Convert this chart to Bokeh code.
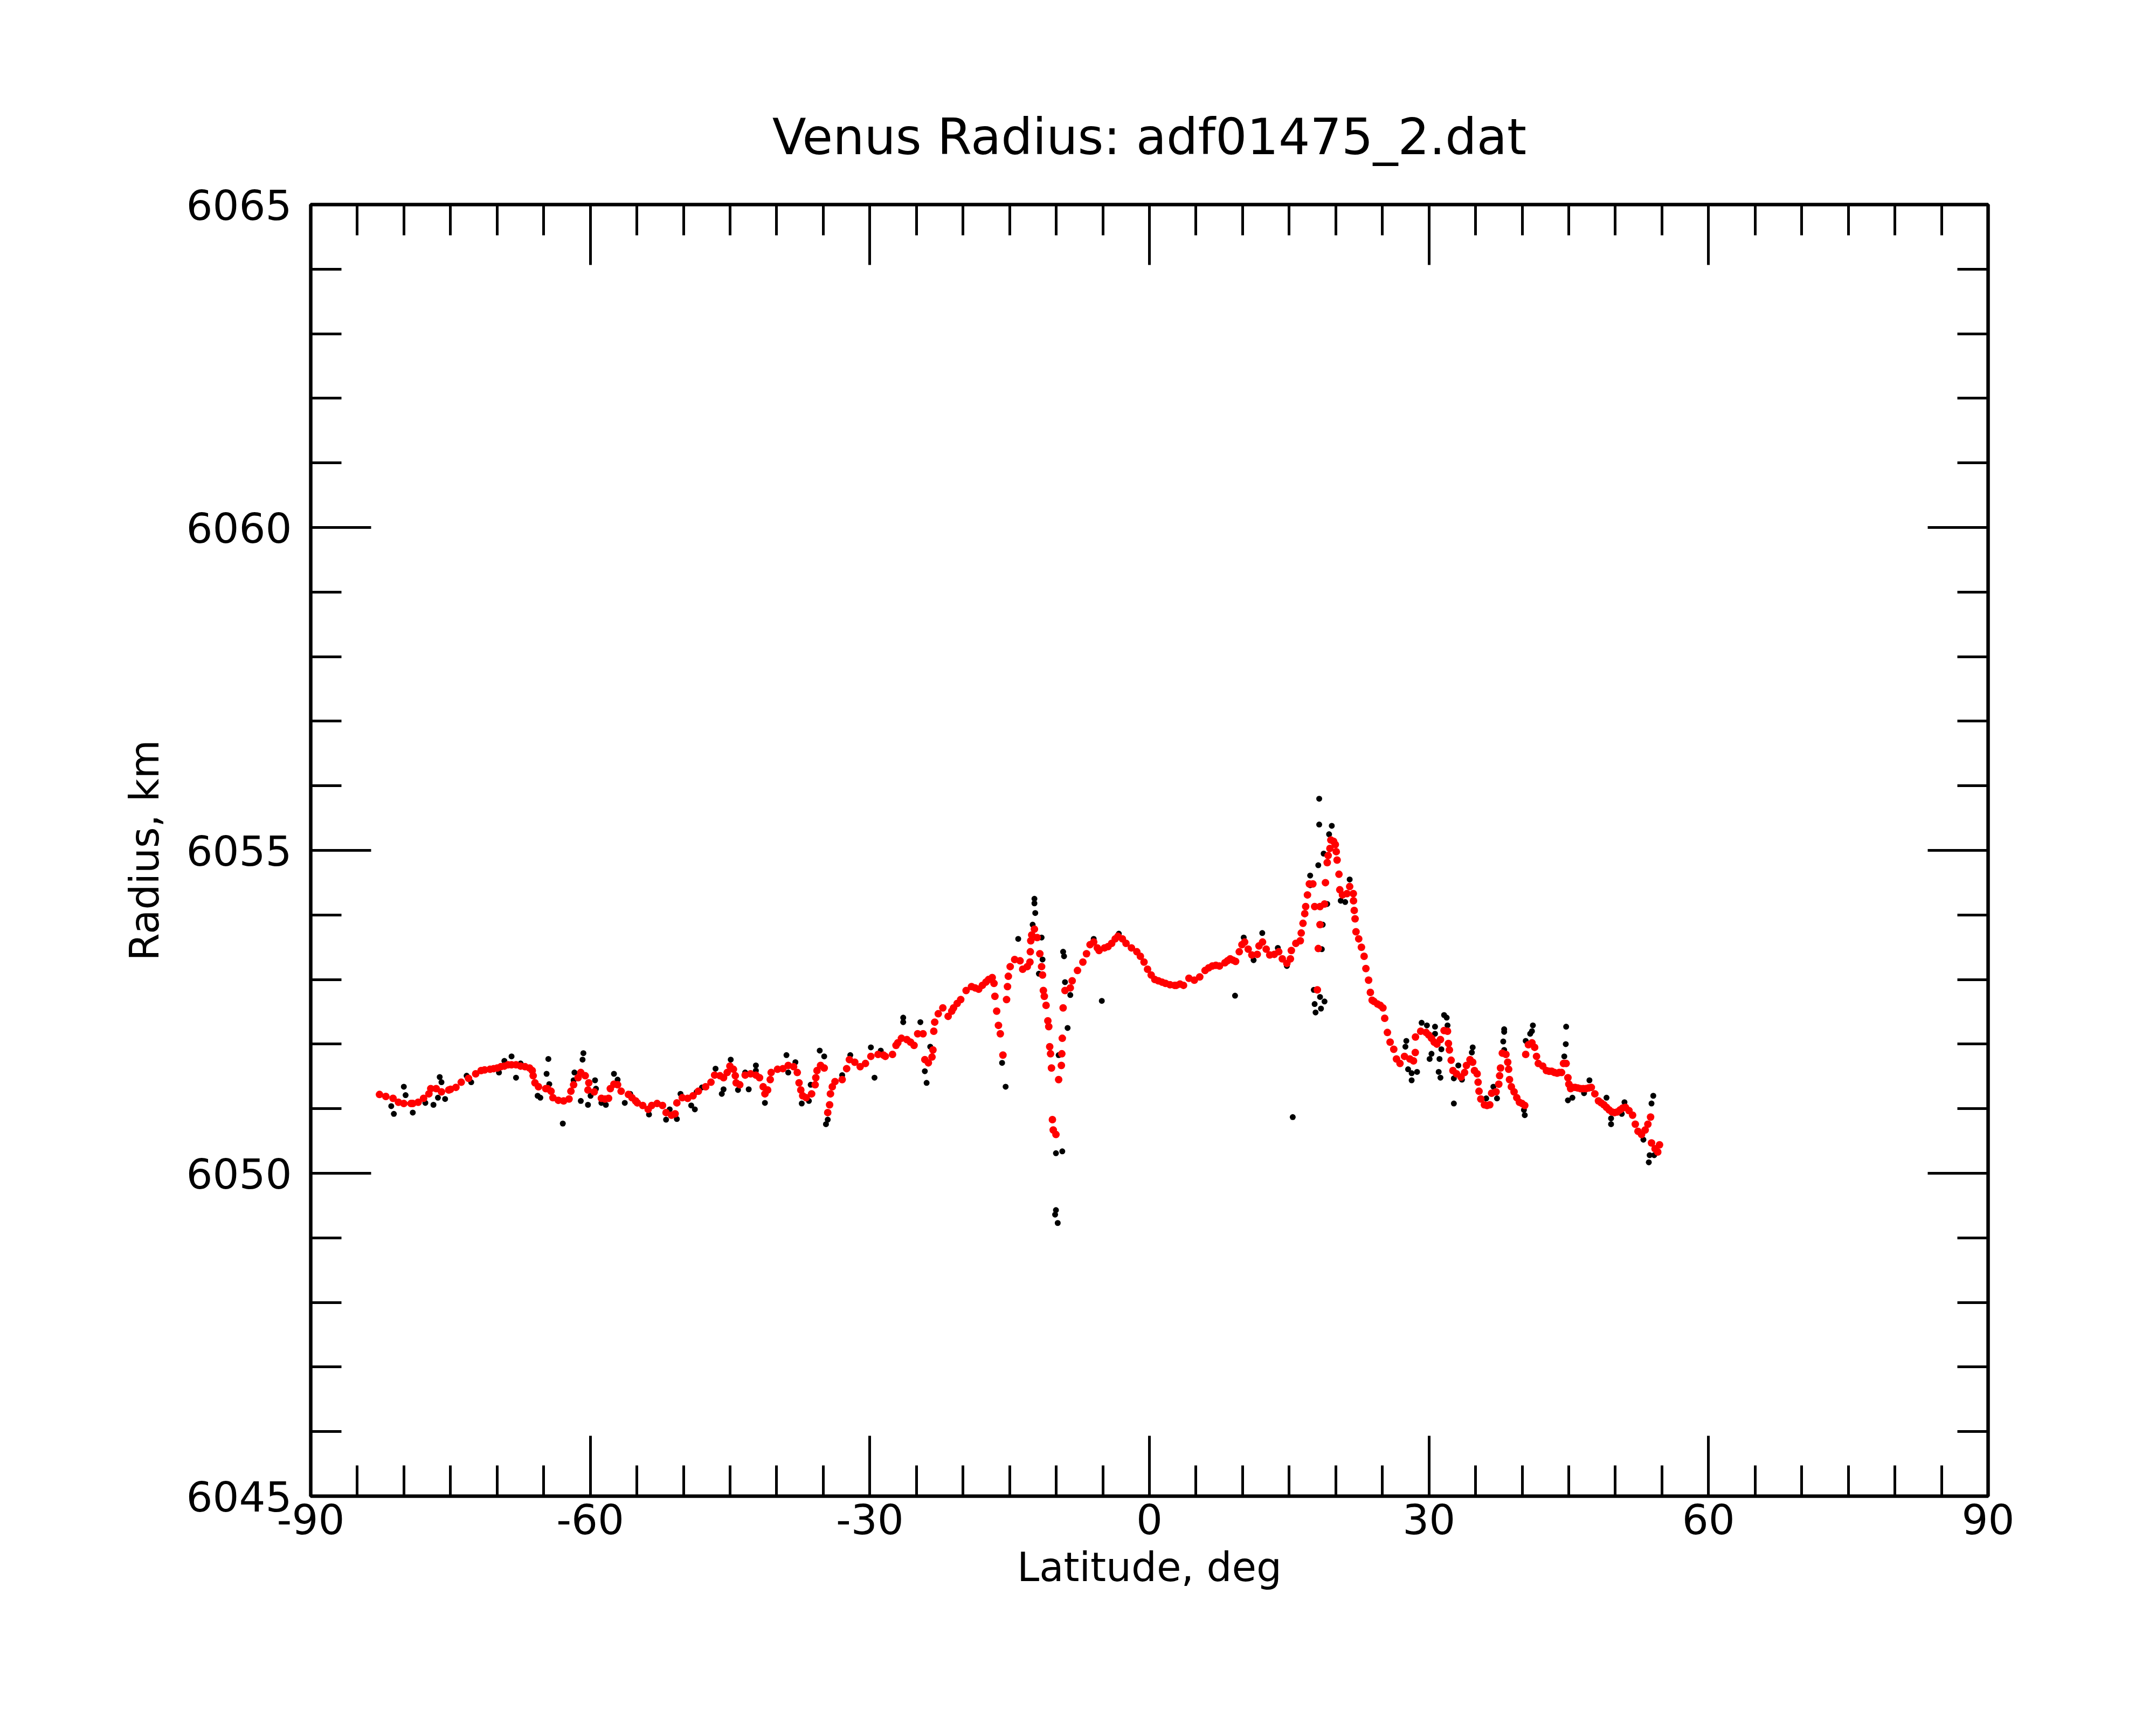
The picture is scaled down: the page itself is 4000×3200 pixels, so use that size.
from bokeh.plotting import figure
from bokeh.models import Range1d, LinearAxis, FixedTicker, ColumnDataSource, CustomJSTickFormatter
from bokeh.embed import file_html
from bokeh.resources import INLINE

# ---------------- data ----------------
# smoothed radius profile (red)
red_lat = [
    -82.62, -81.94, -81.17, -80.59, -80.01, -79.24, -79.05, -78.47, -77.89, -77.32,
    -77.12, -76.54, -75.97, -75.19, -75.00, -74.42, -73.85, -73.07, -72.30, -71.72,
    -71.34, -70.76, -70.37, -69.99, -69.60, -69.22, -68.83, -68.45, -67.97, -67.48,
    -67.00, -66.52, -66.23, -66.13, -65.94, -65.56, -64.78, -64.59, -64.21, -64.01,
    -63.43, -62.86, -62.28, -62.08, -61.79, -61.31, -61.02, -60.54, -60.16, -60.25,
    -59.58, -58.81, -58.42, -58.04, -57.85, -57.46, -57.07, -56.69, -55.91, -55.53,
    -55.14,
    -54.95, -54.37, -53.79, -53.41, -52.83, -52.25, -51.87, -51.29, -50.90, -50.71,
    -50.13, -49.55, -48.97, -48.40, -47.62, -47.05, -46.66, -46.08, -45.70, -45.31,
    -45.02, -44.64, -44.44, -44.35, -43.96, -43.38, -42.80, -42.23, -41.84, -41.45,
    -41.26, -40.97, -40.69, -40.59, -39.91, -39.33, -38.76, -38.18, -37.79, -37.60,
    -37.41, -37.21, -36.83, -36.25, -35.87, -35.80, -35.67, -35.29, -34.90, -34.23,
    -34.32, -34.52, -34.03, -33.74, -32.97, -32.49, -32.20, -31.62, -31.04, -30.47,
    -29.89, -29.12, -28.54, -28.34, -27.57, -27.19, -27.00, -26.61,
    -26.03, -25.64, -25.26, -24.87, -24.29, -24.10, -23.72, -23.33, -23.23, -23.14,
    -23.04, -22.66, -22.17, -21.60, -21.21, -21.02, -20.63, -20.25, -19.67, -19.09,
    -18.70, -18.32, -17.93, -17.55, -17.26, -16.87, -16.68, -16.58, -16.39, -16.20,
    -16.00, -15.72, -15.33, -15.23, -15.14, -14.94, -14.46, -13.88, -13.60, -13.11,
    -12.82, -12.78, -12.73, -12.63, -12.34, -12.05, -11.76, -11.57, -11.47, -11.38,
    -11.28, -11.09, -10.90, -10.80, -10.70, -10.61, -10.51, -10.41, -10.32, -10.03,
    -9.74, -9.45, -9.40, -9.35, -9.26, -9.06, -8.49, -8.29, -7.72, -7.14,
    -6.75, -6.37, -5.98, -5.59, -5.40, -4.82, -4.44, -4.05, -3.67, -3.38,
    -2.90, -2.51, -1.93, -1.35, -0.97, -0.58, -0.20, 0.19, 0.58, 0.96,
    1.35, 1.73, 2.21, 2.70,
    2.89, 3.28, 3.66, 4.24, 4.82, 5.40, 5.97, 6.36, 6.75, 7.13,
    7.52, 8.10, 8.38, 8.67, 8.96, 9.25, 9.64, 9.93, 10.22, 10.60,
    10.99, 11.57, 11.76, 12.14, 12.53, 12.91, 13.40, 13.88, 14.26, 14.75,
    15.13, 15.23, 15.71, 16.19, 16.29, 16.48, 16.67, 16.77, 16.96, 17.16,
    17.54, 17.73, 18.02, 18.12, 18.31, 18.31, 18.79, 18.89, 19.08, 19.18,
    19.37, 19.47, 19.76, 19.95, 20.05, 20.14, 20.34, 20.43, 20.72, 21.20,
    21.49, 21.88, 21.90, 21.98, 22.07, 22.17, 22.46, 22.75, 23.04, 23.23,
    23.52, 23.71, 23.90, 24.10, 24.48, 24.77, 25.06, 25.25, 25.54, 25.83,
    26.22, 26.51, 26.89, 27.37, 27.95, 28.34, 28.53, 28.55, 29.11, 29.69,
    29.98, 30.27, 30.56, 30.85, 31.23, 31.62,
    31.99, 32.09, 32.19, 32.38, 32.57, 32.96, 33.44, 33.82, 34.02, 34.40,
    34.69, 34.88, 35.17, 35.27, 35.37, 35.56, 35.95, 36.23, 36.52, 36.72,
    37.20, 37.49, 37.58, 37.68, 37.87, 38.26, 38.45, 38.55, 38.64, 38.84,
    39.13, 39.42, 39.70, 39.99, 40.28, 40.38, 40.67, 41.05, 41.34, 41.54,
    41.73, 42.21, 42.60, 42.89, 43.17, 43.46, 43.75, 43.98, 44.23, 44.43,
    44.72, 44.91, 45.01, 45.20, 45.39, 45.68, 45.97, 46.26, 46.55, 46.84,
    47.13, 47.42, 47.80, 48.19, 48.48, 48.77, 49.05, 49.34, 49.63, 49.92,
    50.21, 50.50, 50.79, 51.08, 51.46, 51.85, 52.14, 52.43, 52.81, 53.20,
    53.49, 53.78, 53.88, 54.26, 54.55, 54.74,
]
red_radius = [
    6051.22, 6051.19, 6051.16, 6051.10, 6051.08, 6051.08, 6051.08, 6051.10, 6051.16, 6051.23,
    6051.31, 6051.31, 6051.26, 6051.29, 6051.30, 6051.33, 6051.41, 6051.47, 6051.54, 6051.59,
    6051.60, 6051.61, 6051.62, 6051.63, 6051.65, 6051.66, 6051.68, 6051.68, 6051.68, 6051.66,
    6051.65, 6051.63, 6051.59, 6051.51, 6051.40, 6051.34, 6051.31, 6051.31, 6051.27, 6051.17,
    6051.13, 6051.12, 6051.15, 6051.27, 6051.37, 6051.48, 6051.56, 6051.51, 6051.40, 6051.29,
    6051.26, 6051.16, 6051.15, 6051.16, 6051.31, 6051.38, 6051.37, 6051.27, 6051.22, 6051.17,
    6051.12,
    6051.09, 6051.05, 6050.99, 6051.05, 6051.08, 6051.05, 6050.94, 6050.90, 6050.92, 6051.09,
    6051.17, 6051.16, 6051.20, 6051.27, 6051.34, 6051.41, 6051.52, 6051.51, 6051.48, 6051.56,
    6051.66, 6051.61, 6051.51, 6051.40, 6051.37, 6051.52, 6051.54, 6051.52, 6051.48, 6051.34,
    6051.23, 6051.29, 6051.45, 6051.56, 6051.61, 6051.62, 6051.67, 6051.65, 6051.56, 6051.40,
    6051.29, 6051.20, 6051.17, 6051.23, 6051.37, 6051.48, 6051.59, 6051.67, 6051.63, 6051.23,
    6051.06, 6050.94, 6051.34, 6051.42, 6051.45, 6051.62, 6051.76, 6051.72, 6051.65, 6051.70,
    6051.81, 6051.84, 6051.83, 6051.81, 6051.84, 6051.98, 6052.02, 6052.09,
    6052.07, 6052.03, 6051.98, 6052.16, 6052.16, 6051.76, 6051.71, 6051.80, 6051.91, 6052.20,
    6052.34, 6052.47, 6052.56, 6052.43, 6052.51, 6052.56, 6052.63, 6052.69, 6052.83, 6052.89,
    6052.87, 6052.85, 6052.91, 6052.96, 6053.00, 6053.03, 6052.94, 6052.74, 6052.51, 6052.29,
    6052.16, 6051.83, 6052.69, 6052.89, 6053.05, 6053.20, 6053.31, 6053.29, 6053.16, 6053.20,
    6053.27, 6053.43, 6053.60, 6053.69, 6053.78, 6053.65, 6053.40, 6053.20, 6053.07, 6052.83,
    6052.74, 6052.60, 6052.36, 6052.27, 6051.96, 6051.85, 6051.63, 6050.83, 6050.67, 6050.60,
    6051.45, 6051.67, 6051.85, 6052.09, 6052.56, 6052.83, 6052.87, 6052.98, 6053.14, 6053.27,
    6053.40, 6053.54, 6053.58, 6053.49, 6053.45, 6053.49, 6053.51, 6053.56, 6053.63, 6053.67,
    6053.63, 6053.56, 6053.49, 6053.43, 6053.36, 6053.27, 6053.16, 6053.07, 6053.00, 6052.98,
    6052.96, 6052.94, 6052.92, 6052.91,
    6052.91, 6052.93, 6052.91, 6053.02, 6052.99, 6053.04, 6053.14, 6053.18, 6053.21, 6053.22,
    6053.21, 6053.26, 6053.29, 6053.32, 6053.30, 6053.28, 6053.43, 6053.54, 6053.58, 6053.47,
    6053.38, 6053.39, 6053.52, 6053.58, 6053.47, 6053.38, 6053.39, 6053.43, 6053.32, 6053.25,
    6053.32, 6053.45, 6053.56, 6053.60, 6053.72, 6053.87, 6054.02, 6054.13, 6054.31, 6054.48,
    6054.48, 6054.13, 6052.84, 6053.48, 6053.85, 6054.13, 6054.17, 6054.50, 6054.81, 6054.92,
    6055.03, 6055.16, 6055.14, 6055.09, 6054.98, 6054.85, 6054.63, 6054.39, 6054.31, 6054.33,
    6054.44, 6054.33, 6054.22, 6054.07, 6053.94, 6053.74, 6053.63, 6053.50, 6053.36, 6053.17,
    6052.99, 6052.80, 6052.68, 6052.66, 6052.62, 6052.60, 6052.56, 6052.40, 6052.18, 6052.03,
    6051.92, 6051.77, 6051.70, 6051.81, 6051.77, 6051.74, 6051.87, 6052.11, 6052.20, 6052.18,
    6052.14, 6052.09, 6052.03, 6052.00, 6052.07, 6052.21,
    6052.20, 6052.01, 6051.91, 6051.75, 6051.59, 6051.54, 6051.49, 6051.56, 6051.67, 6051.76,
    6051.72, 6051.59, 6051.54, 6051.41, 6051.27, 6051.15, 6051.06, 6051.05, 6051.06, 6051.24,
    6051.26, 6051.38, 6051.51, 6051.63, 6051.86, 6051.84, 6051.72, 6051.61, 6051.45, 6051.34,
    6051.26, 6051.17, 6051.10, 6051.08, 6051.05, 6051.84, 6051.99, 6052.02, 6051.95, 6051.81,
    6051.70, 6051.66, 6051.59, 6051.58, 6051.58, 6051.56, 6051.55, 6051.56, 6051.56, 6051.70,
    6051.70, 6051.48, 6051.38, 6051.31, 6051.33, 6051.33, 6051.32, 6051.31, 6051.31, 6051.31,
    6051.32, 6051.33, 6051.23, 6051.12, 6051.09, 6051.06, 6051.02, 6050.98, 6050.95, 6050.94,
    6050.95, 6050.98, 6051.01, 6051.02, 6050.97, 6050.90, 6050.76, 6050.65, 6050.60, 6050.67,
    6050.76, 6050.87, 6050.47, 6050.38, 6050.33, 6050.44,
]

# raw measurements that stray from the smoothed profile (black)
raw_lat = [
    -81.36, -81.08, -80.01, -79.82, -79.05, -77.70, -76.83, -76.16, -75.97, -76.35,
    -75.58, -73.27, -72.78, -69.80, -69.22, -68.45, -67.97, -67.48, -64.50, -64.69,
    -64.40, -65.65, -65.36, -62.95, -60.74, -60.83, -61.70, -61.79, -61.02, -60.25,
    -59.49, -59.39, -59.97, -58.81, -58.33, -57.46, -57.07, -56.30, -55.72,
    -53.70, -51.87, -50.71, -51.48, -50.32, -48.78, -49.17, -48.59, -48.01, -46.56,
    -45.89, -45.70, -44.93, -44.15, -43.38, -43.00, -42.23, -42.23, -41.26, -38.95,
    -38.76, -37.99, -37.31, -36.54, -36.35, -35.38, -34.90, -34.71, -34.52, -32.97,
    -32.10, -29.89, -29.50, -28.83, -26.42, -26.42,
    -24.58, -24.10, -23.91, -23.52, -14.08, -12.34, -12.34, -12.25, -12.53, -11.57,
    -11.47, -11.86, -15.81, -15.43, -10.03, -9.35, -10.03, -10.12, -9.84, -9.26,
    -9.16, -9.06, -8.78, -9.74, -8.49, -5.11, -5.98, -3.28,
    18.22, 18.22, 19.57, 19.28, 18.70, 18.12, 17.25, 17.25, 21.49, 20.53,
    21.01, 19.08, 18.60, 18.50, 17.64, 18.31, 18.79, 17.73, 18.41, 17.83,
    15.38, 9.19, 10.12, 12.11, 13.78, 11.18, 14.75, 27.57, 27.47, 28.14,
    28.14, 28.72, 27.76, 29.21, 29.78, 30.65, 30.65, 30.27, 30.07, 31.13,
    31.04, 31.23, 31.62, 31.33,
    31.90, 31.99, 32.67, 32.67, 33.15, 33.54, 34.69, 34.60, 36.14, 36.91,
    37.30, 38.07, 38.07, 37.97, 38.07, 40.28, 40.19, 40.38, 40.86, 41.15,
    41.05, 44.72, 44.68, 44.52, 44.91, 45.39, 46.64, 47.22, 49.05, 49.54,
    49.54, 50.98, 50.69, 54.07, 53.88, 53.01, 53.68, 53.59, 54.17,
]
raw_radius = [
    6051.04, 6050.92, 6051.34, 6051.21, 6050.94, 6051.09, 6051.06, 6051.49, 6051.41, 6051.17,
    6051.15, 6051.51, 6051.41, 6051.56, 6051.74, 6051.81, 6051.48, 6051.70, 6051.77, 6051.54,
    6051.38, 6051.20, 6051.17, 6050.77, 6051.86, 6051.76, 6051.56, 6051.44, 6051.12, 6051.06,
    6051.44, 6051.31, 6051.20, 6051.09, 6051.06, 6051.54, 6051.45, 6051.09, 6051.23,
    6050.91, 6050.83, 6050.84, 6050.99, 6051.23, 6050.99, 6051.05, 6051.26, 6051.33, 6051.62,
    6051.23, 6051.30, 6051.76, 6051.29, 6051.56, 6051.30, 6051.67, 6051.59, 6051.09, 6051.83,
    6051.56, 6051.72, 6051.08, 6051.12, 6051.37, 6051.90, 6051.81, 6050.76, 6050.83, 6051.52,
    6051.83, 6051.95, 6051.48, 6051.90, 6052.41, 6052.34,
    6052.34, 6051.58, 6051.40, 6051.96, 6053.63, 6054.25, 6054.18, 6054.03, 6053.85, 6053.65,
    6053.31, 6053.09, 6051.71, 6051.34, 6050.31, 6050.34, 6049.43, 6049.36, 6049.23, 6053.43,
    6053.36, 6052.96, 6052.25, 6051.83, 6052.76, 6052.67, 6053.63, 6053.71,
    6055.80, 6055.40, 6055.38, 6055.25, 6054.95, 6054.77, 6054.61, 6054.46, 6054.55, 6054.22,
    6054.20, 6054.17, 6053.85, 6053.47, 6052.84, 6052.73, 6052.66, 6052.62, 6052.55, 6052.49,
    6050.87, 6052.75, 6053.65, 6053.72, 6053.49, 6053.30, 6053.21, 6052.05, 6051.96, 6051.55,
    6051.44, 6051.57, 6051.61, 6052.33, 6052.29, 6052.27, 6052.16, 6051.85, 6051.77, 6051.77,
    6051.57, 6051.48, 6052.45, 6051.92,
    6052.41, 6052.29, 6051.47, 6051.08, 6051.67, 6051.45, 6051.95, 6051.87, 6051.16, 6051.34,
    6051.16, 6052.23, 6052.19, 6052.04, 6051.91, 6050.90, 6050.98, 6052.05, 6052.16, 6052.29,
    6052.20, 6052.27, 6052.00, 6051.81, 6051.13, 6051.17, 6051.24, 6051.44, 6051.17, 6050.76,
    6050.85, 6051.10, 6050.92, 6051.20, 6051.08, 6050.52, 6050.28, 6050.17, 6050.28,
]

x_major = [-90, -60, -30, 0, 30, 60, 90]
x_minor = list(range(-90, 91, 5))
y_major = [6045, 6050, 6055, 6060, 6065]
y_minor = list(range(6045, 6066, 1))

TITLE = "Venus Radius: adf01475_2.dat"
XLABEL = "Latitude, deg"
YLABEL = "Radius, km"

FONT = "DejaVu Sans"

# ---------------- figure ----------------
p = figure(width=3984, height=3184, output_backend="svg", toolbar_location=None,
           x_range=Range1d(-90, 90), y_range=Range1d(6045, 6065),
           x_axis_location=None, y_axis_location=None,
           min_border_left=576, min_border_right=296,
           min_border_top=379, min_border_bottom=409,
           title=TITLE)
p.grid.visible = False
p.outline_line_color = "black"
p.outline_line_width = 6
p.background_fill_color = "white"
p.border_fill_color = "white"

p.title.text_font = FONT
p.title.text_font_size = "92px"
p.title.text_font_style = "normal"
p.title.align = "center"
p.title.text_color = "black"
p.title.standoff = 143


def make_axis(major, minor, label=None, show_labels=True, label_standoff=12, axis_label_standoff=10):
    ax = LinearAxis(ticker=FixedTicker(ticks=major, minor_ticks=minor))
    ax.major_tick_in = 112
    ax.major_tick_out = 0
    ax.minor_tick_in = 57
    ax.minor_tick_out = 0
    ax.axis_line_width = 6
    ax.axis_line_color = "black"
    ax.major_tick_line_width = 5
    ax.minor_tick_line_width = 5
    ax.major_tick_line_color = "black"
    ax.minor_tick_line_color = "black"
    if show_labels:
        ax.formatter = CustomJSTickFormatter(code="return tick.toFixed(0);")
        ax.major_label_text_font = FONT
        ax.major_label_text_font_size = "77px"
        ax.major_label_text_color = "black"
        ax.major_label_standoff = label_standoff
    else:
        ax.formatter = CustomJSTickFormatter(code="return '';")
        ax.major_label_standoff = 0
    if label:
        ax.axis_label = label
        ax.axis_label_text_font = FONT
        ax.axis_label_text_font_size = "74px"
        ax.axis_label_text_font_style = "normal"
        ax.axis_label_text_color = "black"
        ax.axis_label_standoff = axis_label_standoff
    return ax


p.add_layout(make_axis(x_major, x_minor, XLABEL, True, 14, 15), "below")
p.add_layout(make_axis(y_major, y_minor, YLABEL, True, 35, 32), "left")
p.add_layout(make_axis(x_major, x_minor, None, False), "above")
p.add_layout(make_axis(y_major, y_minor, None, False), "right")

raw_src = ColumnDataSource(dict(lat=red_lat + raw_lat, radius=red_radius + raw_radius))
red_src = ColumnDataSource(dict(lat=red_lat, radius=red_radius))

p.scatter("lat", "radius", source=raw_src, size=11, marker="circle",
          fill_color="black", line_color=None)
p.scatter("lat", "radius", source=red_src, size=14, marker="circle",
          fill_color="red", line_color=None)

open("out.html", "w").write(file_html(p, INLINE))
